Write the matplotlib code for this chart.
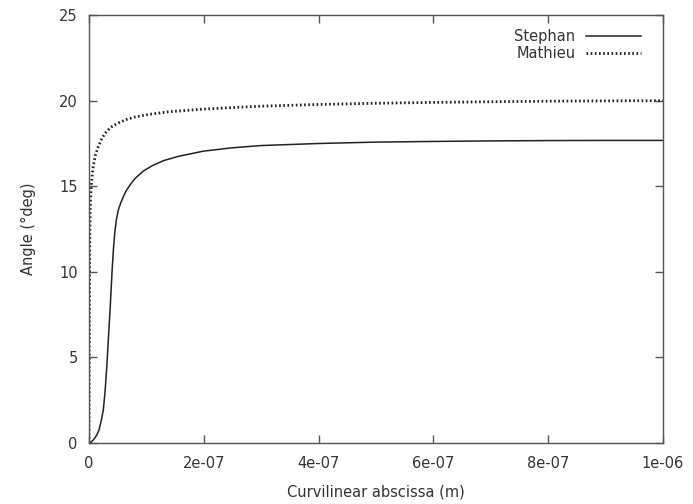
import matplotlib
matplotlib.use("Agg")
import matplotlib.pyplot as plt

# Angle along the curvilinear abscissa for the two models
stephan_s = [0, 4e-9, 7.7e-9, 1.1e-8, 1.4e-8, 1.7e-8, 1.9e-8, 2.2e-8, 2.5e-8, 2.8e-8,
             3.1e-8, 3.4e-8, 3.7e-8, 4.0e-8, 4.25e-8, 4.5e-8, 4.75e-8, 5.1e-8, 5.5e-8,
             6.0e-8, 6.5e-8, 7.2e-8, 8.0e-8, 9.5e-8, 1.1e-7, 1.3e-7, 1.56e-7, 1.99e-7,
             2.5e-7, 3.0e-7, 4.0e-7, 5.0e-7, 6.0e-7, 7.0e-7, 8.0e-7, 9.0e-7, 1.0e-6]
stephan_angle = [0, 0.06, 0.19, 0.33, 0.5, 0.72, 0.97, 1.4, 1.94, 3.0,
                 4.46, 6.2, 7.95, 9.9, 11.3, 12.3, 13.0, 13.6, 14.0,
                 14.4, 14.75, 15.1, 15.45, 15.9, 16.2, 16.5, 16.75, 17.05,
                 17.25, 17.38, 17.5, 17.58, 17.62, 17.65, 17.67, 17.68, 17.68]

mathieu_s = [0, 3e-10, 7e-10, 1.2e-9, 2.0e-9, 3.0e-9, 4.0e-9, 5.5e-9, 7.5e-9, 1.1e-8,
             1.6e-8, 2.2e-8, 2.8e-8, 3.8e-8, 5.1e-8, 6.5e-8, 8.0e-8, 1.05e-7, 1.38e-7,
             1.96e-7, 2.5e-7, 3.0e-7, 4.0e-7, 5.0e-7, 6.0e-7, 7.0e-7, 8.0e-7, 9.0e-7,
             1.0e-6]
mathieu_angle = [0, 4.0, 8.0, 11.0, 13.5, 14.4, 15.0, 15.6, 16.2, 16.8,
                 17.3, 17.75, 18.1, 18.45, 18.7, 18.9, 19.05, 19.2, 19.35,
                 19.5, 19.6, 19.68, 19.78, 19.85, 19.9, 19.94, 19.97, 19.99,
                 20.0]

x_ticks = [0, 2e-7, 4e-7, 6e-7, 8e-7, 1e-6]
x_tick_labels = ["0", "2e-07", "4e-07", "6e-07", "8e-07", "1e-06"]
y_ticks = [0, 5, 10, 15, 20, 25]

text_color = "#333333"
frame_color = "#555555"

fig = plt.figure(figsize=(6.93, 5.04), dpi=100)
ax = fig.add_axes([0.1284, 0.121, 0.8283, 0.849])

ax.plot(stephan_s, stephan_angle, color="#222222", lw=1.1, label="Stephan")
ax.plot(mathieu_s, mathieu_angle, color="#222222", lw=2.0, linestyle=(0, (0.6, 0.9)),
        label="Mathieu")

ax.set_xlim(0, 1e-6)
ax.set_ylim(0, 25)
ax.set_xticks(x_ticks)
ax.set_xticklabels(x_tick_labels)
ax.set_yticks(y_ticks)

ax.tick_params(direction="in", length=6, width=1, color=frame_color,
               labelcolor=text_color, labelsize=10.5, top=True, right=True)
ax.tick_params(axis="x", pad=9)
ax.tick_params(axis="y", pad=8)
for spine in ax.spines.values():
    spine.set_color(frame_color)
    spine.set_linewidth(1)

ax.set_xlabel("Curvilinear abscissa (m)", color=text_color, fontsize=10.5, labelpad=10)
ax.set_ylabel("Angle (°deg)", color=text_color, fontsize=10.5, labelpad=17)

leg = ax.legend(loc="upper right", bbox_to_anchor=(0.962, 0.968), frameon=False,
                markerfirst=False, fontsize=10.5, handlelength=3.8, handletextpad=0.7,
                borderaxespad=0, borderpad=0, labelspacing=0.15)
for t in leg.get_texts():
    t.set_color(text_color)

fig.savefig("out.png", dpi=100)
